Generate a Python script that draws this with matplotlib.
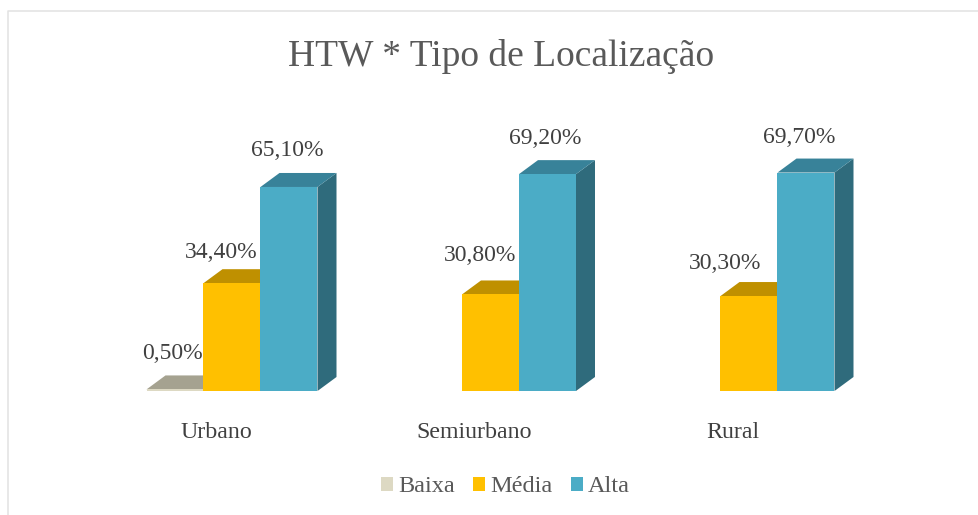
#!/usr/bin/env python3
"""HTW por tipo de localizacao, barras com falso 3D."""

import matplotlib
matplotlib.use("Agg")
import matplotlib.pyplot as plt
from matplotlib.patches import Polygon, Patch

plt.rcParams["font.family"] = ["Liberation Serif", "DejaVu Serif"]

categories = ["Urbano", "Semiurbano", "Rural"]
series_names = ["Baixa", "Média", "Alta"]
baixa = [0.5, 0, 0]
media = [34.4, 30.8, 30.3]
alta = [65.1, 69.2, 69.7]
series_values = [baixa, media, alta]

front_colors = ["#ddd9c3", "#ffc000", "#4bacc6"]
top_colors = ["#a5a290", "#bf9000", "#388299"]
side_colors = ["#8f8c7c", "#a67d00", "#2f6b7c"]
text_color = "#404040"

# label nudges in pixels from top centre of each bar, one row per series
label_dx = [[-2.5, 0, 0], [-11, -10.5, -24], [-2, -2, -7]]
label_dy = [[36, 0, 0], [31, 39, 33], [36, 36, 35]]

W, H = 979, 515
X0, Y0 = 232, 391      # pixel of first group centre and of the baseline
GROUP_PX = 258.5
PX_PER_PCT = 3.134
BAR_W = 57 / GROUP_PX
DEPTH_X = 19 / GROUP_PX
DEPTH_Y = 14 / PX_PER_PCT

fig = plt.figure(figsize=(W / 100, H / 100), dpi=100)
ax = fig.add_axes([0, 0, 1, 1])
ax.set_xlim(-X0 / GROUP_PX, (W - X0) / GROUP_PX)
ax.set_ylim((Y0 - H) / PX_PER_PCT, Y0 / PX_PER_PCT)
ax.axis("off")

for s, values in enumerate(series_values):
    for g, v in enumerate(values):
        if v == 0:
            continue
        left = g + (s - 1) * BAR_W - BAR_W / 2
        right = left + BAR_W
        ax.add_patch(Polygon([(right, 0), (right + DEPTH_X, DEPTH_Y),
                              (right + DEPTH_X, v + DEPTH_Y), (right, v)],
                             facecolor=side_colors[s], edgecolor="none", zorder=2 + s))
        ax.add_patch(Polygon([(left, v), (left + DEPTH_X, v + DEPTH_Y),
                              (right + DEPTH_X, v + DEPTH_Y), (right, v)],
                             facecolor=top_colors[s], edgecolor="none", zorder=2 + s))
        ax.bar(left + BAR_W / 2, v, BAR_W, color=front_colors[s], zorder=2 + s)
        ax.annotate(f"{v:.2f}%".replace(".", ","), (left + BAR_W / 2, v),
                    xytext=(label_dx[s][g] * 0.72, label_dy[s][g] * 0.72),
                    textcoords="offset points", ha="center", va="center",
                    fontsize=17, color=text_color, zorder=10)

for g, name in enumerate(categories):
    ax.annotate(name, (g, 0), xytext=(-16 * 0.72, -41 * 0.72), textcoords="offset points",
                ha="center", va="center", fontsize=17.2, color=text_color)

fig.text(501 / W, 1 - 56 / H, "HTW * Tipo de Localização", ha="center", va="center",
         fontsize=27, color="#595959")

handles = [Patch(facecolor=c, label=n) for c, n in zip(front_colors, series_names)]
fig.legend(handles=handles, loc="center", bbox_to_anchor=(505.5 / W, 1 - 487 / H), ncol=3,
           frameon=False, fontsize=17.5, labelcolor="#595959", handlelength=0.5,
           handleheight=0.5, handletextpad=0.2, columnspacing=0.75,
           borderpad=0, borderaxespad=0)

# chart frame, only the left and top edges are in the crop
fig.add_artist(plt.Line2D([8.5 / W, 8.5 / W, 1], [0, 1 - 10.5 / H, 1 - 10.5 / H],
                          color="#e2e2e2", linewidth=1.1))

fig.savefig("out.png", dpi=100)
